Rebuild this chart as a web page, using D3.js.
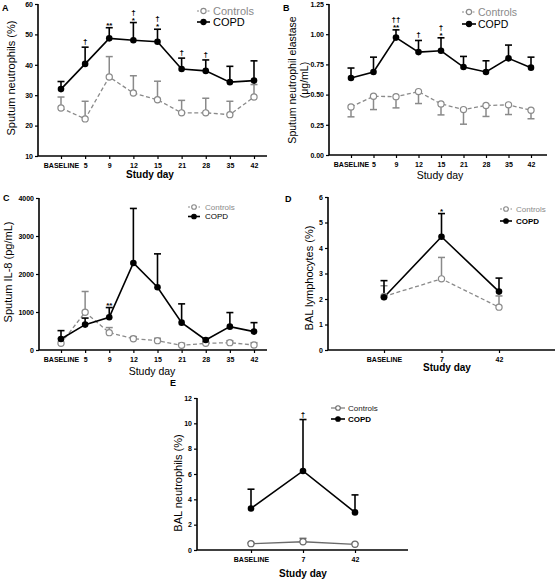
<!DOCTYPE html>
<html><head><meta charset="utf-8">
<script src="https://cdn.jsdelivr.net/npm/d3@7"></script>
<style>body{margin:0;background:#fff}svg{display:block;font-family:"Liberation Sans",Arial,sans-serif}</style>
</head><body>
<svg id="c" width="558" height="581"></svg>
<script>
// ---- data ----
const sputumDays = ["BASELINE","5","9","12","15","21","28","35","42"];
const balDays = ["BASELINE","7","42"];

const neutCopd    = [32.0,40.3,48.7,48.1,47.6,38.6,38.0,34.3,34.8];
const neutCopdErr = [34.5,45.8,52.2,53.9,51.7,42.2,41.6,39.5,41.3];
const neutCtrl    = [25.8,22.2,36.0,30.7,28.5,24.2,24.2,23.6,29.4];
const neutCtrlErr = [29.4,28.0,42.7,36.4,34.6,28.3,29.0,28.0,33.5];
const neutAnn = [[],["†"],["**"],["†","*"],["†","*"],["†"],["†"],[],[]];

const elaCopd    = [0.637,0.687,0.972,0.852,0.863,0.728,0.687,0.80,0.723];
const elaCopdErr = [0.72,0.81,1.036,0.948,0.97,0.816,0.78,0.91,0.81];
const elaCtrl    = [0.398,0.486,0.483,0.525,0.423,0.376,0.41,0.415,0.37];
const elaCtrlErr = [0.316,0.376,0.39,0.426,0.332,0.255,0.319,0.335,0.30];
const elaAnn = [[],[],["††","**"],["†"],["†","*"],[],[],[],[]];

const il8Copd    = [290,668,862,2290,1650,720,264,615,484];
const il8CopdErr = [510,840,1117,3725,2530,1214,300,985,720];
const il8Ctrl    = [176,994,457,298,246,123,176,193,132];
const il8CtrlErr = [300,1540,590,352,308,176,220,245,193];
const il8Ann = [[],[],["**"],[],[],[],[],[],[]];

const lymCopd    = [2.07,4.44,2.29];
const lymCopdErr = [2.72,5.35,2.82];
const lymCtrl    = [2.10,2.79,1.68];
const lymCtrlErr = [2.52,3.63,2.12];
const lymAnn = [[],["*"],[]];

const balNeuCopd    = [3.28,6.24,2.97];
const balNeuCopdErr = [4.8,10.3,4.35];
const balNeuCtrl    = [0.50,0.65,0.45];
const balNeuCtrlErr = [0.55,0.92,0.50];
const balNeuAnn = [[],["†"],[]];

const ticksA = [10,20,30,40,50,60];
const ticksB = [0,0.25,0.5,0.75,1.0,1.25];
const ticksC = [0,1000,2000,3000,4000];
const ticksD = [0,1,2,3,4,5,6];
const ticksE = [0,2,4,6,8,10,12];

// ---- drawing ----
const svg = d3.select("#c");
const GRAY = "#8a8a8a";

function panel(o){
  const g = svg.append("g");
  const x = d3.scalePoint().domain(o.days).range(o.xr);
  const y = d3.scaleLinear().domain(o.yd).range(o.yr);
  g.append("line").attr("x1",o.ax0).attr("x2",o.ax1).attr("y1",o.yr[0]).attr("y2",o.yr[0]).attr("stroke","#000").attr("stroke-width",1.6);
  g.append("line").attr("x1",o.ax0).attr("x2",o.ax0).attr("y1",o.yr[0]).attr("y2",o.yr[1]).attr("stroke","#000").attr("stroke-width",1.6);
  const xa = g.append("g").attr("transform",`translate(0,${o.yr[0]})`)
    .call(d3.axisBottom(x).tickSize(3).tickPadding(4));
  const ya = g.append("g").attr("transform",`translate(${o.ax0},0)`)
    .call(d3.axisLeft(y).tickValues(o.ticks).tickSize(3).tickPadding(2).tickFormat(o.fmt||d3.format("d")));
  [xa,ya].forEach(a=>{
    a.select(".domain").remove();
    a.selectAll("line").attr("stroke","#000").attr("stroke-width",1.2);
    a.selectAll("text").attr("font-size",7).attr("font-weight","bold").attr("fill","#000").attr("font-family","Liberation Sans, Arial, sans-serif");
  });
  const line = d3.line().x((d,i)=>x(o.days[i])).y(d=>y(d));
  const capW = 3.5;
  const cc = o.ctrlColor||GRAY;
  o.ctrl.forEach((v,i)=>{
    const px=x(o.days[i]);
    g.append("line").attr("x1",px).attr("x2",px).attr("y1",y(v)).attr("y2",y(o.ctrlErr[i])).attr("stroke",cc).attr("stroke-width",1.5);
    g.append("line").attr("x1",px-capW).attr("x2",px+capW).attr("y1",y(o.ctrlErr[i])).attr("y2",y(o.ctrlErr[i])).attr("stroke",cc).attr("stroke-width",1.5);
  });
  g.append("path").attr("d",line(o.ctrl)).attr("fill","none").attr("stroke",cc).attr("stroke-width",1.3)
    .attr("stroke-dasharray",o.ctrlDash===false?null:"4,2.5");
  o.copd.forEach((v,i)=>{
    const px=x(o.days[i]);
    g.append("line").attr("x1",px).attr("x2",px).attr("y1",y(v)).attr("y2",y(o.copdErr[i])).attr("stroke","#000").attr("stroke-width",1.6);
    g.append("line").attr("x1",px-capW).attr("x2",px+capW).attr("y1",y(o.copdErr[i])).attr("y2",y(o.copdErr[i])).attr("stroke","#000").attr("stroke-width",1.6);
  });
  g.append("path").attr("d",line(o.copd)).attr("fill","none").attr("stroke","#000").attr("stroke-width",1.6);
  o.ctrl.forEach((v,i)=>{
    g.append("circle").attr("cx",x(o.days[i])).attr("cy",y(v)).attr("r",o.r||3.1).attr("fill","#fff").attr("stroke",cc).attr("stroke-width",1.2);
  });
  o.copd.forEach((v,i)=>{
    g.append("circle").attr("cx",x(o.days[i])).attr("cy",y(v)).attr("r",o.r||3.3).attr("fill","#000");
  });
  o.ann.forEach((a,i)=>{
    const px=x(o.days[i]); let py=y(o.copdErr[i]);
    a.slice().reverse().forEach((s)=>{
      const isStar = s.includes("*");
      g.append("text").attr("x",px).attr("y",py-(isStar?0:3)).attr("text-anchor","middle")
        .attr("font-size",8).attr("font-weight","bold").attr("fill","#000").text(s);
      py -= isStar?5:8;
    });
  });
  g.append("text").attr("x",o.letter[0]).attr("y",o.letter[1]).attr("font-size",9).attr("font-weight","bold").attr("fill","#000").text(o.letter[2]);
  const yt = g.append("text").attr("transform",`translate(${o.yt[0]},${o.yt[1]}) rotate(-90)`).attr("text-anchor","middle").attr("font-size",o.ytSize||11).attr("fill","#000");
  o.ytLines.forEach((s,k)=>yt.append("tspan").attr("x",0).attr("dy",k?(o.ytGap||12):0).text(s));
  g.append("text").attr("x",o.xt[0]).attr("y",o.xt[1]).attr("text-anchor","middle").attr("font-size",o.xtSize||10)
    .attr("font-weight",o.xtBold?"bold":"normal").attr("fill","#000").text("Study day");
  const L=o.leg, fs=L.fs;
  [[L.y1,"Controls",true],[L.y2,"COPD",false]].forEach(([ly,t,isC])=>{
    const col = isC?cc:"#000";
    g.append("line").attr("x1",L.x0).attr("x2",L.x1).attr("y1",ly).attr("y2",ly).attr("stroke",col).attr("stroke-width",isC?1.1:1.6)
      .attr("stroke-dasharray",isC&&o.ctrlDash!==false?"2,1.5":null);
    g.append("circle").attr("cx",(L.x0+L.x1)/2).attr("cy",ly).attr("r",L.r||2.6).attr("fill",isC?"#fff":"#000").attr("stroke",col).attr("stroke-width",1.1);
    g.append("text").attr("x",L.tx).attr("y",ly+fs*0.36).attr("font-size",fs)
      .attr("fill",isC?(L.textColor||GRAY):"#000").attr("font-weight",(!isC&&L.boldCopd)?"bold":"normal").text(t);
  });
}

panel({days:sputumDays, xr:[61,254], ax0:38, ax1:267, yd:[10,60], yr:[156,4], ticks:ticksA,
  copd:neutCopd, copdErr:neutCopdErr, ctrl:neutCtrl, ctrlErr:neutCtrlErr, ann:neutAnn,
  letter:[2,11,"A"], yt:[15,78], ytLines:["Sputum neutrophils (%)"], xt:[150,178], xtBold:true,
  leg:{x0:197,x1:210,tx:213,y1:11,y2:22,fs:11}});

panel({days:sputumDays, xr:[351,531], ax0:329, ax1:547, yd:[0,1.25], yr:[155,4], ticks:ticksB, fmt:d3.format(".2f"),
  copd:elaCopd, copdErr:elaCopdErr, ctrl:elaCtrl, ctrlErr:elaCtrlErr, ann:elaAnn,
  letter:[283,11,"B"], yt:[296,80], ytLines:["Sputum neutrophil elastase","(μg/mL)"], ytSize:10.5, ytGap:12,
  xt:[440,179], xtBold:false, xtSize:10.5,
  leg:{x0:462,x1:476,tx:478,y1:12,y2:24,fs:10.5}});

panel({days:sputumDays, xr:[61,254], ax0:39, ax1:267, yd:[0,4000], yr:[350,198], ticks:ticksC,
  copd:il8Copd, copdErr:il8CopdErr, ctrl:il8Ctrl, ctrlErr:il8CtrlErr, ann:il8Ann,
  letter:[3,201,"C"], yt:[12,272], ytLines:["Sputum IL-8 (pg/mL)"], xt:[152,375], xtBold:false, xtSize:10.5,
  leg:{x0:188,x1:200,tx:205,y1:207,y2:216.5,fs:8,r:2.3}});

panel({days:balDays, xr:[384,499], ax0:328, ax1:555, yd:[0,6], yr:[350,197], ticks:ticksD,
  copd:lymCopd, copdErr:lymCopdErr, ctrl:lymCtrl, ctrlErr:lymCtrlErr, ann:lymAnn,
  letter:[285,202,"D"], yt:[313,278], ytLines:["BAL lymphocytes (%)"], xt:[447,371], xtBold:true,
  leg:{x0:500,x1:512,tx:516,y1:209,y2:221,fs:8,r:2.3,boldCopd:true}});

panel({days:balDays, xr:[251,355], ax0:197, ax1:408, yd:[0,12], yr:[550,398], ticks:ticksE,
  copd:balNeuCopd, copdErr:balNeuCopdErr, ctrl:balNeuCtrl, ctrlErr:balNeuCtrlErr, ann:balNeuAnn,
  ctrlDash:false, ctrlColor:"#6a6a6a",
  letter:[170,386,"E"], yt:[182,483], ytLines:["BAL neutrophils (%)"], xt:[303,577], xtBold:true,
  leg:{x0:331,x1:345,tx:348,y1:408,y2:419,fs:8,r:2.3,boldCopd:true,textColor:"#222"}});
</script>
</body></html>
